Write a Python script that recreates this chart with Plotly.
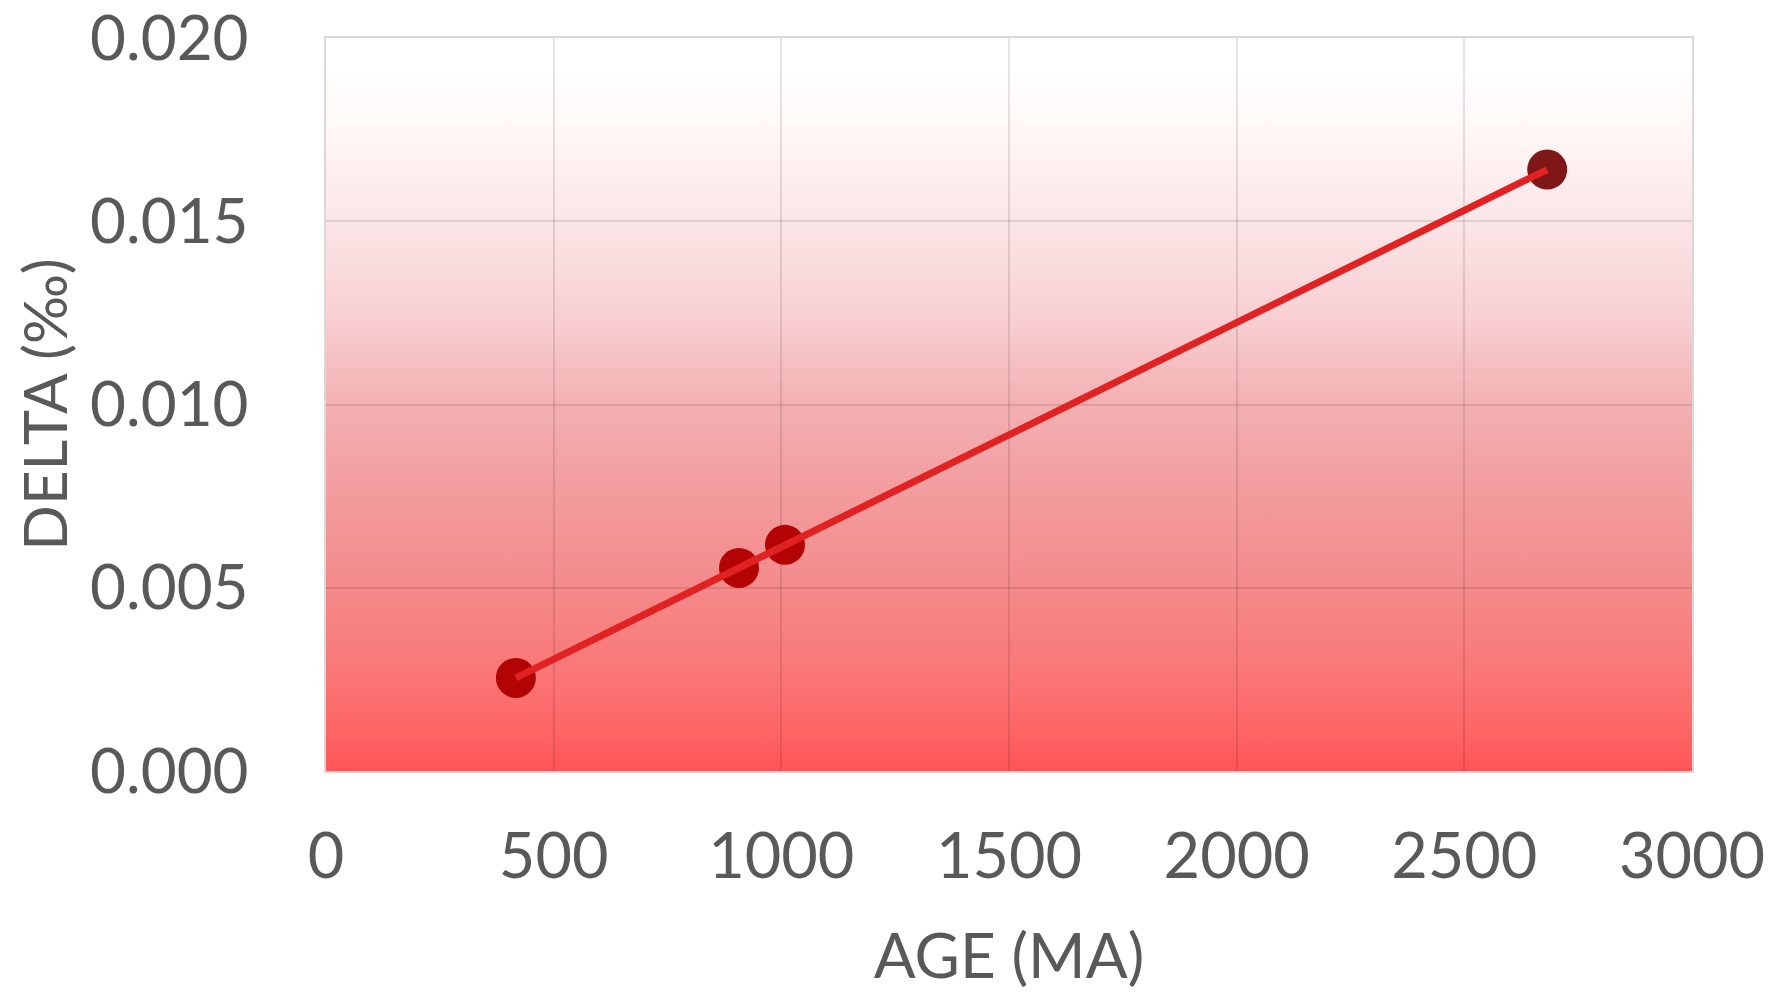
import base64
import numpy as np
import plotly.graph_objects as go

# Data
age_ma = [417, 907, 1008, 2682]
delta_permil = [0.00254, 0.00554, 0.00617, 0.01641]
point_colors = ["#B20404", "#B20404", "#B20404", "#7E1818"]

x_ticks = [0, 500, 1000, 1500, 2000, 2500, 3000]
y_ticks = [0.000, 0.005, 0.010, 0.015, 0.020]
y_tick_text = ["0.000", "0.005", "0.010", "0.015", "0.020"]

# linear trend line through the data
slope, intercept = np.polyfit(age_ma, delta_permil, 1)
trend_x = [min(age_ma), max(age_ma)]
trend_y = [slope * v + intercept for v in trend_x]

# vertical gradient background (as SVG image)
stops = [
    (0.00, "#FFFFFF"), (0.04, "#FFFFFF"), (0.12, "#FFF8F6"), (0.25, "#FBE5E7"),
    (0.38, "#F8D0D3"), (0.50, "#F3B0B2"), (0.62, "#F29C9E"), (0.75, "#F48A8A"),
    (0.87, "#FA7676"), (0.95, "#FE6464"), (1.00, "#FF5457"),
]
stop_xml = "".join(f'<stop offset="{o}" stop-color="{c}"/>' for o, c in stops)
svg = (
    '<svg xmlns="http://www.w3.org/2000/svg" width="100" height="1000" '
    'preserveAspectRatio="none" viewBox="0 0 100 1000">'
    f'<defs><linearGradient id="g" x1="0" y1="0" x2="0" y2="1">{stop_xml}</linearGradient></defs>'
    '<rect x="0" y="0" width="100" height="1000" fill="url(#g)"/></svg>'
)
svg_uri = "data:image/svg+xml;base64," + base64.b64encode(svg.encode()).decode()

font_family = "Lato, 'Open Sans', sans-serif"
text_color = "#595959"
grid_color = "rgba(0,0,0,0.10)"
frame_color = "rgba(0,0,0,0.15)"

fig = go.Figure()
fig.add_trace(go.Scatter(
    x=age_ma, y=delta_permil, mode="markers",
    marker=dict(size=40, color=point_colors, line=dict(width=0)),
    showlegend=False, hoverinfo="x+y",
))
fig.add_trace(go.Scatter(
    x=trend_x, y=trend_y, mode="lines",
    line=dict(color="#E02222", width=7),
    showlegend=False, hoverinfo="skip",
))

fig.add_layout_image(dict(
    source=svg_uri, xref="paper", yref="paper", x=0, y=1,
    sizex=1, sizey=1, sizing="stretch", xanchor="left", yanchor="top",
    layer="below", opacity=1,
))

fig.update_layout(
    width=1773, height=984,
    margin=dict(l=318, r=89, t=30, b=221, pad=0),
    paper_bgcolor="white", plot_bgcolor="white",
    font=dict(family=font_family, color=text_color, size=62),
)
fig.update_xaxes(
    range=[0, 3000], tickvals=x_ticks, ticktext=[str(v) for v in x_ticks],
    showgrid=True, gridcolor=grid_color, gridwidth=2,
    showline=True, linecolor=frame_color, linewidth=2, mirror=True,
    zeroline=False, ticks="", ticklabelstandoff=29, ticklabeloverflow="allow",
    automargin=False,
    tickfont=dict(size=63, family=font_family, color=text_color),
    title=dict(text="AGE (MA)", font=dict(size=62, family=font_family, color=text_color), standoff=45),
)
fig.update_yaxes(
    range=[0, 0.02], tickvals=y_ticks, ticktext=y_tick_text,
    showgrid=True, gridcolor=grid_color, gridwidth=2,
    showline=True, linecolor=frame_color, linewidth=2, mirror=True,
    zeroline=False, ticks="", ticklabelstandoff=63, ticklabeloverflow="allow",
    automargin=False,
    tickfont=dict(size=62, family=font_family, color=text_color),
    title=dict(text="DELTA (‰)", font=dict(size=60, family=font_family, color=text_color), standoff=20),
)

fig.write_html("out.html")
